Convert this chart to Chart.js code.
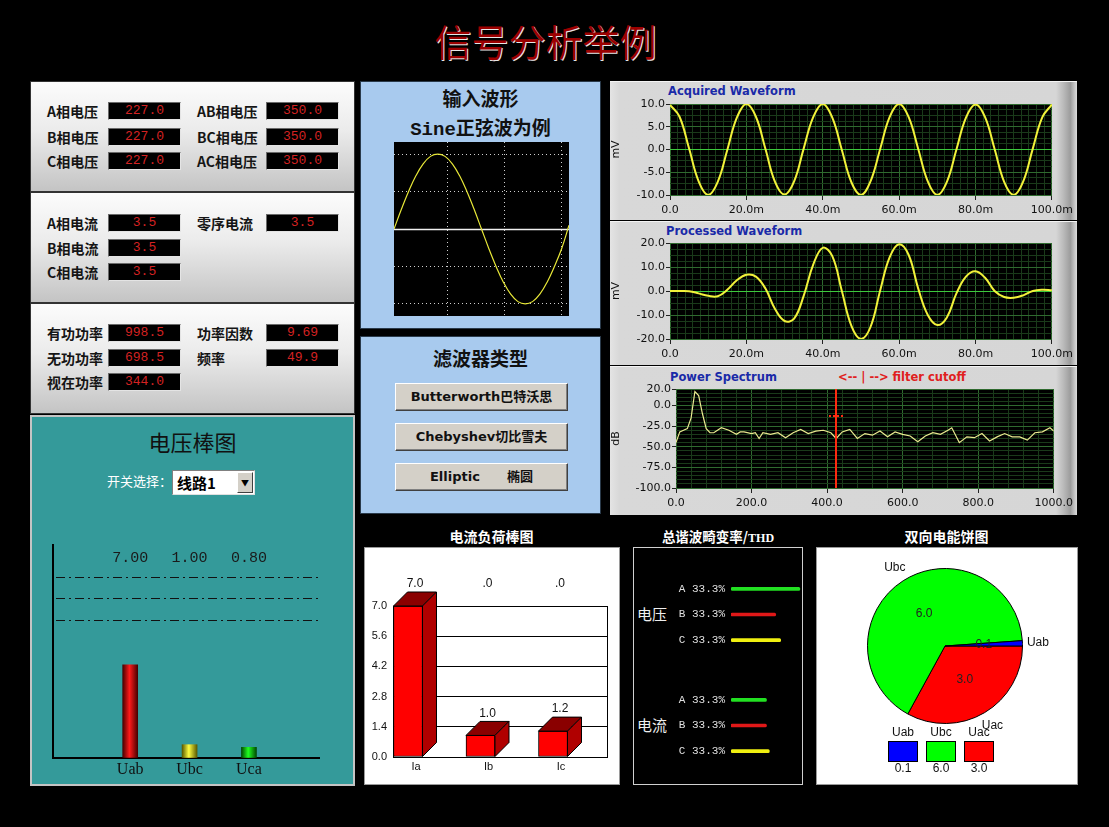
<!DOCTYPE html>
<html>
<head>
<meta charset="utf-8">
<title>信号分析举例</title>
<script src="https://cdn.jsdelivr.net/npm/chart.js@4.4.1/dist/chart.umd.min.js"></script>
<style>
  body { margin: 0; width: 1109px; height: 827px; background: #000; position: relative; overflow: hidden; font-family: "Noto Sans CJK SC", sans-serif; }
  .box { position: absolute; box-sizing: border-box; }
  canvas { position: absolute; }
  #title { position: absolute; left: -9px; top: 15px; width: 1109px; text-align: center; font-size: 37px; line-height: 52px; color: #9c0000; text-shadow: 1px 1px 0 #e6e6e6; }
  .gauge { left: 30px; width: 325px; background: linear-gradient(#fcfcfc, #ebebeb 45%, #c4c4c4); border: 1px solid #333; }
  .lbl { position: absolute; font-size: 14px; font-weight: bold; color: #151515; line-height: 18px; white-space: nowrap; }
  .led { position: absolute; width: 73px; height: 18px; box-sizing: border-box; background: #000; border: 1px solid; border-color: #6a6a6a #e4e4e4 #e4e4e4 #6a6a6a; color: #d42222; font-family: "Liberation Mono", monospace; font-size: 13px; line-height: 16px; text-align: center; }
  .blue { background: #a8caee; border: 1px solid #2a3a4a; }
  .btitle { position: absolute; width: 100%; text-align: center; font-weight: bold; color: #111; white-space: nowrap; }
  .btn { position: absolute; left: 34px; width: 173px; height: 28px; box-sizing: border-box; background: #d4d0c8; border: 1px solid; border-color: #fff #404040 #404040 #fff; box-shadow: inset -1px -1px 0 #808080; font-family: "DejaVu Sans", "Noto Sans CJK SC", sans-serif; font-weight: bold; font-size: 13px; line-height: 26px; text-align: center; color: #111; white-space: pre; }
  .gpanel { left: 610px; width: 467px; background: linear-gradient(to right, #e4e4e4 0, #d8d8d8 2%, #d6d6d6 95.5%, #bcbcbc 97%, #9c9c9c 98.6%, #dcdcdc 100%); border-top: 1px solid #f4f4f4; }
  .gtitle { position: absolute; font-family: "DejaVu Sans", sans-serif; font-weight: bold; font-size: 11.5px; color: #1a2aa8; white-space: nowrap; }
  .wtitle { position: absolute; color: #fff; font-weight: bold; font-size: 14px; text-align: center; white-space: nowrap; }
</style>
</head>
<body>
<div id="title">信号分析举例</div>

<div class="box gauge" style="top:81px;height:111px;"></div>
<div class="box gauge" style="top:192px;height:111px;"></div>
<div class="box gauge" style="top:303px;height:111px;"></div>

<div class="box" style="left:30px;top:415px;width:325px;height:371px;background:#349a9a;border:2px solid #c4c4c4;">
  <div style="position:absolute;left:0;width:100%;top:8px;text-align:center;font-size:22px;color:#111;">电压棒图</div>
  <div style="position:absolute;left:75px;top:54px;font-size:13px;color:#fff;">开关选择：</div>
  <div style="position:absolute;left:140px;top:53px;width:83px;height:25px;box-sizing:border-box;background:#fff;border:1px solid;border-color:#808080 #e0e0e0 #e0e0e0 #808080;">
    <span style="position:absolute;left:4px;top:1px;font-size:15px;font-weight:bold;color:#000;">线路1</span>
    <div style="position:absolute;right:1px;top:1px;width:16px;height:21px;box-sizing:border-box;background:#d4d0c8;border:1px solid;border-color:#fff #404040 #404040 #fff;font-size:8px;line-height:19px;text-align:center;">▼</div>
  </div>
</div>

<div class="box blue" style="left:360px;top:81px;width:241px;height:248px;">
  <div class="btitle" style="top:2px;font-size:19px;">输入波形</div>
  <div class="btitle" style="top:31px;font-size:19px;font-family:'Liberation Mono','Noto Sans CJK SC',monospace;">Sine正弦波为例</div>
</div>

<div class="box blue" style="left:360px;top:336px;width:241px;height:178px;">
  <div class="btitle" style="top:7px;font-size:19px;">滤波器类型</div>
  <div class="btn" style="top:46px;">Butterworth巴特沃思</div>
  <div class="btn" style="top:86px;">Chebyshev切比雪夫</div>
  <div class="btn" style="top:126px;">Elliptic      椭圆</div>
</div>

<div class="box gpanel" style="top:81px;height:139px;"></div>
<div class="box gpanel" style="top:221px;height:144px;"></div>
<div class="box gpanel" style="top:366px;height:149px;"></div>
<div class="gtitle" style="left:668px;top:84px;">Acquired Waveform</div>
<div class="gtitle" style="left:666px;top:224px;">Processed Waveform</div>
<div class="gtitle" style="left:670px;top:370px;">Power Spectrum</div>
<div class="gtitle" style="left:838px;top:370px;color:#e02020;">&lt;-- | --&gt; filter cutoff</div>

<div class="wtitle" style="left:364px;width:255px;top:526px;">电流负荷棒图</div>
<div class="wtitle" style="left:630px;width:176px;top:526px;font-size:13.5px;">总谐波畸变率/<span style="font-family:'Liberation Serif',serif;font-size:12px;">THD</span></div>
<div class="wtitle" style="left:816px;width:261px;top:526px;">双向电能饼图</div>

<div class="box" style="left:364px;top:547px;width:256px;height:238px;background:#fff;border:1px solid #9a9a9a;"></div>
<div class="box" style="left:633px;top:547px;width:170px;height:238px;background:#000;border:1px solid #d0d0d0;">
  <div style="position:absolute;left:3px;top:55px;color:#eee;font-size:15px;">电压</div>
  <div style="position:absolute;left:3px;top:166px;color:#eee;font-size:15px;">电流</div>
</div>
<div class="box" style="left:816px;top:547px;width:262px;height:238px;background:#fff;border:1px solid #9a9a9a;"></div>

<canvas id="voltBar" width="325" height="255" style="left:30px;top:530px;"></canvas>
<canvas id="sineChart" width="175" height="174" style="left:394px;top:142px;background:#000;"></canvas>
<canvas id="acqChart" width="467" height="138" style="left:610px;top:81px;"></canvas>
<canvas id="procChart" width="467" height="143" style="left:610px;top:221px;"></canvas>
<canvas id="specChart" width="467" height="148" style="left:610px;top:366px;"></canvas>
<canvas id="loadChart" width="255" height="236" style="left:364px;top:547px;"></canvas>
<canvas id="thdVolt" width="134" height="77" style="left:668px;top:576px;"></canvas>
<canvas id="thdCur" width="134" height="77" style="left:668px;top:687px;"></canvas>
<canvas id="pieChart" width="261" height="236" style="left:816px;top:547px;"></canvas>

<script>
// meter readings
const phaseVoltNames = ["A相电压", "B相电压", "C相电压"];
const phaseVoltVals = [227.0, 227.0, 227.0];
const lineVoltNames = ["AB相电压", "BC相电压", "AC相电压"];
const lineVoltVals = [350.0, 350.0, 350.0];
const phaseCurNames = ["A相电流", "B相电流", "C相电流"];
const phaseCurVals = [3.5, 3.5, 3.5];
const zeroSeqNames = ["零序电流"];
const zeroSeqVals = [3.5];
const powerNames = ["有功功率", "无功功率", "视在功率"];
const powerVals = [998.5, 698.5, 344.0];
const otherNames = ["功率因数", "频率"];
const otherVals = [9.69, 49.9];

// voltage bar chart
const voltBarNames = ["Uab", "Ubc", "Uca"];
const voltBarVals = [7.0, 1.0, 0.8];
const voltLimitLines = [13.6, 12.0, 10.4];

// input sine (degrees)
const sineDeg = [0, 15, 30, 45, 60, 75, 90, 105, 120, 135, 150, 165, 180, 195, 210, 225, 240, 255, 270, 285, 300, 315, 330, 345, 360];
const sineVals = [0, 0.26, 0.5, 0.71, 0.87, 0.97, 1, 0.97, 0.87, 0.71, 0.5, 0.26, 0, -0.26, -0.5, -0.71, -0.87, -0.97, -1, -0.97, -0.87, -0.71, -0.5, -0.26, 0.05];

// waveforms, time in ms
const waveTimes = [0, 2.5, 5, 7.5, 10, 12.5, 15, 17.5, 20, 22.5, 25, 27.5, 30, 32.5, 35, 37.5, 40, 42.5, 45, 47.5, 50, 52.5, 55, 57.5, 60, 62.5, 65, 67.5, 70, 72.5, 75, 77.5, 80, 82.5, 85, 87.5, 90, 92.5, 95, 97.5, 100];
const acquiredVals = [9.8, 7.2, 0.2, -7.0, -10.0, -7.1, -0.1, 7.0, 10.0, 7.2, 0.1, -7.1, -9.9, -7.0, 0.2, 7.1, 10.0, 7.0, -0.1, -7.2, -10.0, -7.0, 0.0, 7.1, 10.0, 7.1, 0.1, -7.0, -10.0, -7.1, 0.0, 7.0, 9.9, 7.1, 0.1, -7.1, -10.0, -7.0, 0.2, 7.1, 9.9];
const processedVals = [0, 0, -0.1, -1.0, -2.0, -2.2, 0.5, 4.5, 6.8, 6.0, 1.0, -7.5, -12.5, -11.5, -2.0, 11.0, 18.0, 14.5, 0.0, -14.5, -20.0, -15.0, 0.0, 14.0, 19.5, 15.0, 1.0, -10.0, -14.2, -11.0, -1.0, 6.0, 8.2, 5.5, 0.0, -2.5, -2.8, -1.8, 0.0, 0.5, 0.3];

// power spectrum
const specFreq = [0, 10, 20, 30, 40, 50, 60, 70, 80, 90, 100, 120, 140, 160, 170, 180, 200, 210, 220, 230, 250, 270, 290, 310, 330, 350, 370, 390, 410, 424, 440, 460, 480, 500, 520, 540, 560, 580, 600, 620, 640, 660, 680, 700, 720, 730, 750, 770, 790, 810, 830, 850, 870, 890, 910, 930, 950, 970, 990, 1000];
const specDb = [-45, -32, -30, -28, -15, 17, 12, -10, -28, -33, -33, -27, -30, -35, -32, -32, -34, -33, -40, -33, -35, -33, -39, -33, -29, -34, -31, -30, -33, -40, -32, -29, -40, -34, -36, -31, -38, -32, -35, -37, -44, -37, -33, -35, -30, -27, -45, -38, -39, -34, -43, -38, -34, -38, -38, -42, -33, -32, -27, -31];
const cutoffFreq = 424;

// current load bars
const loadNames = ["Ia", "Ib", "Ic"];
const loadVals = [7.0, 1.0, 1.2];
const loadTopRow = ["", ".0", ".0"];
const loadTicks = [0, 1.4, 2.8, 4.2, 5.6, 7.0];

// THD
const thdPhases = ["A", "B", "C"];
const thdVoltPct = [33.3, 33.3, 33.3];
const thdVoltBars = [97, 63, 70];
const thdCurPct = [33.3, 33.3, 33.3];
const thdCurBars = [50, 50, 54];
const thdColors = ["#22e022", "#e01818", "#f0f010"];

// pie
const pieNames = ["Uab", "Ubc", "Uac"];
const pieVals = [0.1, 6.0, 3.0];
const pieColors = ["#0000ff", "#00ff00", "#ff0000"];

// ---------- meter panels ----------
function reading(name, value, digits, labelX, boxX, top) {
  const l = document.createElement("div");
  l.className = "lbl";
  l.textContent = name;
  l.style.left = labelX + "px";
  l.style.top = top + "px";
  const b = document.createElement("div");
  b.className = "led";
  b.textContent = value.toFixed(digits);
  b.style.left = boxX + "px";
  b.style.top = top + "px";
  document.body.append(l, b);
}
const rowsTop1 = [102, 128, 152];
const rowsTop2 = [214, 239, 263];
const rowsTop3 = [324, 349, 373];
phaseVoltNames.forEach((n, i) => reading(n, phaseVoltVals[i], 1, 47, 108, rowsTop1[i]));
lineVoltNames.forEach((n, i) => reading(n, lineVoltVals[i], 1, 197, 266, rowsTop1[i]));
phaseCurNames.forEach((n, i) => reading(n, phaseCurVals[i], 1, 47, 108, rowsTop2[i]));
zeroSeqNames.forEach((n, i) => reading(n, zeroSeqVals[i], 1, 197, 266, rowsTop2[i]));
powerNames.forEach((n, i) => reading(n, powerVals[i], 1, 47, 108, rowsTop3[i]));
otherNames.forEach((n, i) => reading(n, otherVals[i], i == 0 ? 2 : 1, 197, 266, rowsTop3[i]));

Chart.defaults.animation = false;
Chart.defaults.responsive = false;
Chart.defaults.plugins.legend.display = false;
Chart.defaults.plugins.tooltip.enabled = false;

// ---------- voltage bar chart ----------
const voltShades = [["#4a0000", "#ff1a1a"], ["#5a5a00", "#ffff40"], ["#004a00", "#20ff20"]];
const voltDeco = {
  id: "voltDeco",
  afterDatasetsDraw(chart, args, opts) {
    const { ctx, chartArea: a, scales: { x, y } } = chart;
    ctx.save();
    ctx.strokeStyle = "#111";
    ctx.lineWidth = 1;
    ctx.setLineDash([9, 4, 2, 4]);
    opts.lines.forEach(v => {
      const py = Math.round(y.getPixelForValue(v)) + 0.5;
      ctx.beginPath();
      ctx.moveTo(a.left + 3, py);
      ctx.lineTo(a.right, py);
      ctx.stroke();
    });
    ctx.setLineDash([]);
    ctx.fillStyle = "#1a1a1a";
    ctx.font = '15px "Liberation Mono"';
    ctx.textAlign = "center";
    ctx.textBaseline = "middle";
    voltBarVals.forEach((v, i) => ctx.fillText(v.toFixed(2), x.getPixelForValue(i + 1), y.getPixelForValue(opts.labelRow)));
    ctx.restore();
  }
};
new Chart(document.getElementById("voltBar"), {
  type: "bar",
  data: {
    datasets: [{
      data: voltBarVals.map((v, i) => ({ x: i + 1, y: v })),
      barThickness: 15,
      borderWidth: 0,
      backgroundColor(c) {
        const chart = c.chart;
        const shade = voltShades[c.dataIndex] || voltShades[0];
        if (!chart.chartArea || !c.parsed) return shade[1];
        const px = chart.scales.x.getPixelForValue(c.parsed.x);
        const g = chart.ctx.createLinearGradient(px - 7.5, 0, px + 7.5, 0);
        g.addColorStop(0, shade[0]);
        g.addColorStop(0.45, shade[1]);
        g.addColorStop(1, shade[0]);
        return g;
      }
    }]
  },
  options: {
    layout: { padding: { left: 23, top: 15, right: 36 } },
    plugins: { voltDeco: { lines: voltLimitLines, labelRow: 15 } },
    scales: {
      x: {
        type: "linear", min: -0.3, max: 4.18, offset: false,
        afterBuildTicks(s) { s.ticks = voltBarNames.map((n, i) => ({ value: i + 1 })); },
        afterFit(s) { s.height = 27; },
        ticks: { callback: (v, i) => voltBarNames[i], font: { family: "Liberation Serif", size: 16 }, color: "#111", padding: 2 },
        grid: { drawOnChartArea: false, drawTicks: false, offset: false },
        border: { color: "#000", width: 2 }
      },
      y: {
        min: 0, max: 16,
        afterFit(s) { s.width = 0; },
        ticks: { display: false },
        grid: { drawOnChartArea: false, drawTicks: false },
        border: { color: "#000", width: 2 }
      }
    }
  },
  plugins: [voltDeco]
});

// ---------- input sine ----------
const sineCenter = {
  id: "sineCenter",
  beforeDatasetsDraw(chart) {
    const { ctx, chartArea: a, scales: { y } } = chart;
    const py = Math.round(y.getPixelForValue(0)) + 0.5;
    ctx.save();
    ctx.strokeStyle = "#f0f0f0";
    ctx.lineWidth = 1.5;
    ctx.beginPath();
    ctx.moveTo(a.left, py);
    ctx.lineTo(a.right, py);
    ctx.stroke();
    ctx.restore();
  }
};
new Chart(document.getElementById("sineChart"), {
  type: "line",
  data: { datasets: [{ data: sineDeg.map((d, i) => ({ x: d, y: sineVals[i] })), borderColor: "#e8e838", borderWidth: 1.2, pointRadius: 0, tension: 0.4 }] },
  options: {
    scales: {
      x: {
        type: "linear", min: 0, max: 360,
        afterBuildTicks(s) { s.ticks = [110, 228, 344].map(v => ({ value: v })); },
        afterFit(s) { s.height = 0; },
        ticks: { display: false },
        grid: { color: "#d0d0d0", drawTicks: false },
        border: { display: false, dash: [1, 3] }
      },
      y: {
        min: -1.162, max: 1.162,
        afterBuildTicks(s) { s.ticks = [-1, -0.5, 0.5, 1].map(v => ({ value: v })); },
        afterFit(s) { s.width = 0; },
        ticks: { display: false },
        grid: { color: "#d0d0d0", drawTicks: false },
        border: { display: false, dash: [1, 3] }
      }
    }
  },
  plugins: [sineCenter]
});

// ---------- LabVIEW style graphs ----------
const scopeBg = {
  id: "scopeBg",
  beforeDraw(chart) {
    const { ctx, chartArea: a } = chart;
    ctx.save();
    ctx.fillStyle = "#000";
    ctx.fillRect(a.left, a.top, a.width, a.height);
    ctx.restore();
  }
};
const cutoffMark = {
  id: "cutoffMark",
  afterDatasetsDraw(chart, args, opts) {
    if (opts.freq == null) return;
    const { ctx, chartArea: a, scales: { x, y } } = chart;
    const px = Math.round(x.getPixelForValue(opts.freq));
    const py = Math.round(y.getPixelForValue(opts.cursorDb));
    ctx.save();
    ctx.fillStyle = "#ff2a10";
    ctx.fillRect(px - 1, a.top, 2, a.height);
    for (let k = -7; k < 8; k += 4) ctx.fillRect(px + k, py, 2, 2);
    ctx.restore();
  }
};
const onStep = (v, step) => Math.abs(v / step - Math.round(v / step)) < 1e-6;
const axisFont = { family: "DejaVu Sans", size: 11 };

function scopeChart(id, cfg) {
  const isMajX = v => onStep(v, cfg.xMajor);
  const isMajY = v => cfg.yLabels.some(m => Math.abs(m - v) < 1e-6);
  return new Chart(document.getElementById(id), {
    type: "line",
    data: { datasets: [{ data: cfg.points, borderColor: cfg.color, borderWidth: cfg.lineWidth, pointRadius: 0, tension: cfg.tension }] },
    options: {
      layout: { padding: { top: cfg.top, right: cfg.right } },
      plugins: { cutoffMark: { freq: cfg.cutoff, cursorDb: cfg.cursorDb } },
      scales: {
        x: {
          type: "linear", min: cfg.xMin, max: cfg.xMax,
          afterFit(s) { s.height = cfg.xHeight; },
          ticks: { stepSize: cfg.xMinor, autoSkip: false, maxRotation: 0, padding: 4, font: axisFont, color: "#111",
                   callback: v => isMajX(v) ? cfg.xFmt(v) : "" },
          grid: {
            color: c => isMajX(c.tick.value) ? "#2f6a2f" : "#1a3a1a",
            tickColor: c => isMajX(c.tick.value) ? "#222" : "rgba(0,0,0,0)",
            tickLength: 5
          },
          border: { display: false }
        },
        y: {
          min: cfg.yMin, max: cfg.yMax,
          afterFit(s) { s.width = cfg.yWidth; },
          title: { display: true, text: cfg.yTitle, font: axisFont, color: "#111", padding: 0 },
          ticks: { stepSize: cfg.yMinor, autoSkip: false, padding: 1, font: axisFont, color: "#111",
                   callback: v => isMajY(v) ? v.toFixed(1) : "" },
          grid: {
            color: c => c.tick.value === cfg.yBright ? "#3cc83c" : (isMajY(c.tick.value) ? "#2f6a2f" : "#1a3a1a"),
            tickColor: c => isMajY(c.tick.value) ? "#222" : "rgba(0,0,0,0)",
            tickLength: 4
          },
          border: { display: false }
        }
      }
    },
    plugins: [scopeBg, cutoffMark]
  });
}

const msFmt = v => v === 0 ? "0.0" : v.toFixed(1) + "m";
scopeChart("acqChart", {
  points: waveTimes.map((t, i) => ({ x: t, y: acquiredVals[i] })),
  tension: 0.4, lineWidth: 2, color: "#f2f23a",
  top: 23, right: 23, xHeight: 24, yWidth: 60,
  xMin: 0, xMax: 100, xMinor: 2, xMajor: 20, xFmt: msFmt,
  yMin: -10, yMax: 10, yMinor: 1.25, yLabels: [-10, -5, 0, 5, 10], yBright: 0, yTitle: "mV"
});
scopeChart("procChart", {
  points: waveTimes.map((t, i) => ({ x: t, y: processedVals[i] })),
  tension: 0.4, lineWidth: 2, color: "#f2f23a",
  top: 22, right: 23, xHeight: 25, yWidth: 60,
  xMin: 0, xMax: 100, xMinor: 2, xMajor: 20, xFmt: msFmt,
  yMin: -20, yMax: 20, yMinor: 2.5, yLabels: [-20, -10, 0, 10, 20], yBright: 0, yTitle: "mV"
});
scopeChart("specChart", {
  points: specFreq.map((f, i) => ({ x: f, y: specDb[i] })),
  tension: 0, lineWidth: 1.2, color: "#eaea90",
  top: 23, right: 21, xHeight: 26, yWidth: 66,
  xMin: 0, xMax: 1000, xMinor: 40, xMajor: 200, xFmt: v => v.toFixed(1),
  yMin: -100, yMax: 20, yMinor: 5, yLabels: [20, 0, -25, -50, -75, -100], yBright: null, yTitle: "dB",
  cutoff: cutoffFreq, cursorDb: -12
});

// ---------- current load 3D bars ----------
const bar3d = {
  id: "bar3d",
  afterDatasetsDraw(chart, args, opts) {
    const { ctx, chartArea: a } = chart;
    const d = opts.depth;
    ctx.save();
    ctx.strokeStyle = "#000";
    ctx.lineWidth = 1;
    ctx.beginPath();
    ctx.moveTo(Math.round(a.right) + 0.5, a.top);
    ctx.lineTo(Math.round(a.right) + 0.5, a.bottom);
    ctx.stroke();
    chart.getDatasetMeta(0).data.forEach((bar, i) => {
      const l = bar.x - bar.width / 2, r = bar.x + bar.width / 2, t = bar.y, b = bar.base;
      ctx.fillStyle = "#8a0000";
      ctx.beginPath();
      ctx.moveTo(l, t); ctx.lineTo(l + d, t - d); ctx.lineTo(r + d, t - d); ctx.lineTo(r, t); ctx.closePath();
      ctx.fill(); ctx.stroke();
      ctx.fillStyle = "#b00000";
      ctx.beginPath();
      ctx.moveTo(r, t); ctx.lineTo(r + d, t - d); ctx.lineTo(r + d, b - d); ctx.lineTo(r, b); ctx.closePath();
      ctx.fill(); ctx.stroke();
      ctx.fillStyle = "#111";
      ctx.font = '12px "Liberation Sans"';
      ctx.textAlign = "center";
      ctx.textBaseline = "bottom";
      ctx.fillText(loadVals[i].toFixed(1), bar.x + d / 2, t - d - 2);
      if (loadTopRow[i]) ctx.fillText(loadTopRow[i], bar.x + d / 2, a.top - 16);
    });
    ctx.restore();
  }
};
new Chart(document.getElementById("loadChart"), {
  type: "bar",
  data: {
    datasets: [{
      data: loadVals.map((v, i) => ({ x: i + 1, y: v })),
      barThickness: 29,
      backgroundColor: "#ff0000",
      borderColor: "#000",
      borderWidth: 1,
      borderSkipped: false
    }]
  },
  options: {
    layout: { padding: { top: 59, right: 12 } },
    plugins: { bar3d: { depth: 14 } },
    scales: {
      x: {
        type: "linear", min: 0.793, max: 3.745, offset: false,
        afterBuildTicks(s) { s.ticks = loadNames.map((n, i) => ({ value: i + 1 })); },
        afterFit(s) { s.height = 26; },
        ticks: { callback: (v, i) => loadNames[i], labelOffset: 8, font: { family: "Liberation Sans", size: 11 }, color: "#111", padding: 3 },
        grid: { drawOnChartArea: false, drawTicks: false, offset: false },
        border: { color: "#000", width: 1 }
      },
      y: {
        min: 0, max: 7,
        afterBuildTicks(s) { s.ticks = loadTicks.map(v => ({ value: v })); },
        afterFit(s) { s.width = 29; },
        ticks: { callback: v => v.toFixed(1), font: { family: "Liberation Sans", size: 11 }, color: "#111", padding: 6 },
        grid: { color: "#000", drawTicks: false },
        border: { color: "#000", width: 1 }
      }
    }
  },
  plugins: [bar3d]
});

// ---------- THD bars ----------
function thdChart(id, pct, bars) {
  return new Chart(document.getElementById(id), {
    type: "bar",
    data: {
      labels: thdPhases,
      datasets: [{ data: bars, backgroundColor: thdColors, barThickness: 3, borderRadius: 1.5, borderSkipped: false }]
    },
    options: {
      indexAxis: "y",
      scales: {
        x: { display: false, min: 0, max: 100 },
        y: {
          afterFit(s) { s.width = 63; s.paddingTop = 0; s.paddingBottom = 0; },
          ticks: { callback: (v, i) => thdPhases[i] + " " + pct[i].toFixed(1) + "%", font: { family: "Liberation Mono", size: 11 }, color: "#e0e0e0", padding: 6 },
          grid: { display: false, drawTicks: false },
          border: { display: false }
        }
      }
    }
  });
}
thdChart("thdVolt", thdVoltPct, thdVoltBars);
thdChart("thdCur", thdCurPct, thdCurBars);

// ---------- pie ----------
const pieDeco = {
  id: "pieDeco",
  afterDatasetsDraw(chart, args, opts) {
    const { ctx } = chart;
    const names = chart.data.labels;
    const vals = chart.data.datasets[0].data;
    ctx.save();
    ctx.font = '12px "Liberation Sans"';
    ctx.textAlign = "center";
    ctx.textBaseline = "middle";
    chart.getDatasetMeta(0).data.forEach((arc, i) => {
      const mid = (arc.startAngle + arc.endAngle) / 2;
      const r = arc.outerRadius;
      ctx.fillStyle = "#222";
      ctx.fillText(vals[i].toFixed(1), arc.x + Math.cos(mid) * r * 0.5, arc.y + Math.sin(mid) * r * 0.5);
      ctx.fillStyle = "#111";
      ctx.fillText(names[i], arc.x + Math.cos(mid) * r * 1.2, arc.y + Math.sin(mid) * r * 1.2);
    });
    // legend: swatches with names above and values below
    pieNames.forEach((n, i) => {
      const bx = opts.x + i * opts.step;
      ctx.fillStyle = pieColors[i];
      ctx.fillRect(bx, opts.y, 29, 20);
      ctx.strokeStyle = "#000";
      ctx.strokeRect(bx + 0.5, opts.y + 0.5, 29, 20);
      ctx.fillStyle = "#111";
      ctx.fillText(n, bx + 15, opts.y - 8);
      ctx.fillText(pieVals[i].toFixed(1), bx + 15, opts.y + 28);
    });
    ctx.restore();
  }
};
// drawn counter-clockwise in the original, so feed the slices in reverse
const pieOrder = [2, 1, 0];
new Chart(document.getElementById("pieChart"), {
  type: "pie",
  data: {
    labels: pieOrder.map(i => pieNames[i]),
    datasets: [{ data: pieOrder.map(i => pieVals[i]), backgroundColor: pieOrder.map(i => pieColors[i]), borderColor: "#000", borderWidth: 1 }]
  },
  options: {
    rotation: 90,
    layout: { padding: { left: 51, top: 21, right: 54, bottom: 59 } },
    plugins: { pieDeco: { x: 72, y: 194, step: 38 } }
  },
  plugins: [pieDeco]
});
</script>
</body>
</html>
